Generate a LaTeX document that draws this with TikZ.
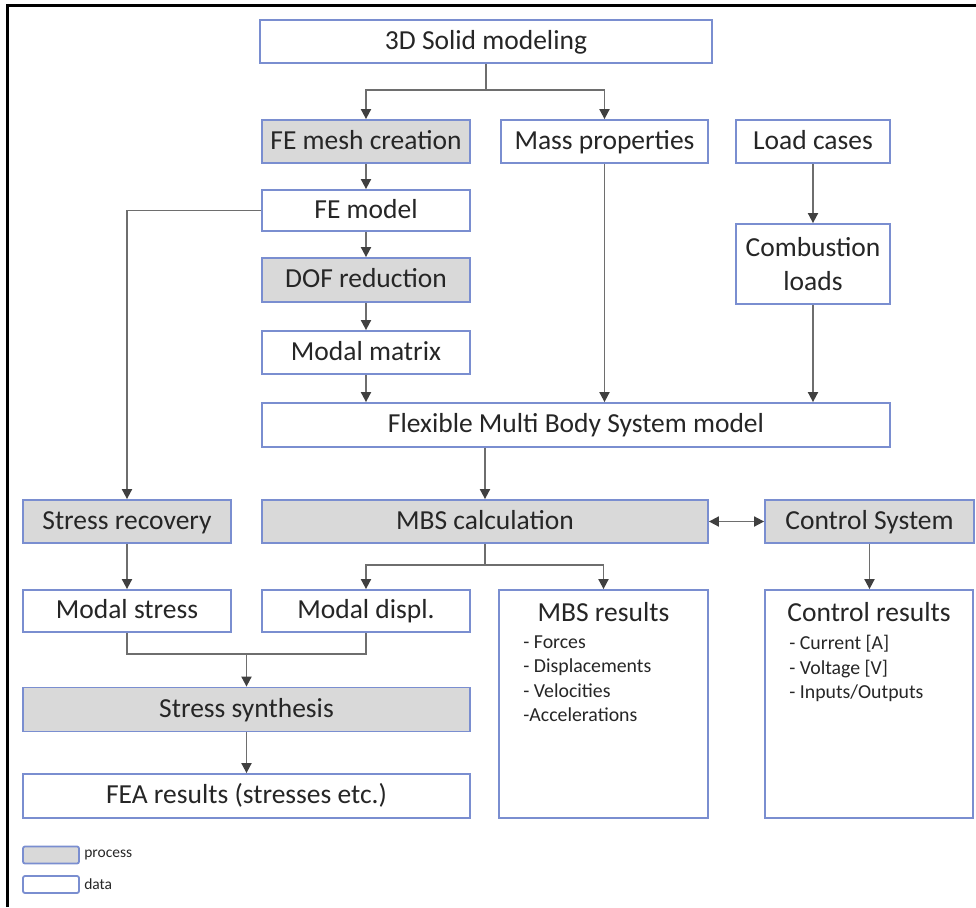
\documentclass[tikz,border=0pt]{standalone}
\usepackage{fontspec}
\setmainfont{Carlito}
\usetikzlibrary{arrows.meta,positioning}
\definecolor{boxblue}{RGB}{122,142,208}
\definecolor{procgray}{RGB}{217,217,217}
\definecolor{linegray}{RGB}{110,110,110}
\definecolor{tipgray}{RGB}{64,64,64}
\definecolor{txtgray}{RGB}{38,38,38}
\tikzset{
  sz/.style 2 args={minimum width=#1*0.5pt, minimum height=#2*0.5pt},
  data/.style={draw=boxblue, line width=0.9pt, fill=white, inner sep=0pt,
    text=txtgray, font=\fontsize{13.75}{17}\selectfont, align=center,
    text height=0.8em, text depth=0.05em},
  proc/.style={data, fill=procgray},
  link/.style={draw=linegray, line width=0.9pt},
  arr/.style={link, -{Triangle[length=5pt, width=5pt, color=tipgray]}},
  list/.style={inner sep=0pt, text=txtgray, align=left, font=\fontsize{9.9}{12.25}\selectfont},
  legend/.style={inner sep=0pt, text=txtgray, font=\fontsize{7.75}{9}\selectfont},
}
\begin{document}
\begin{tikzpicture}[x=0.5pt, y=-0.5pt]
  \useasboundingbox (0,0) rectangle (976,907);
  \draw[line width=1.5pt] (7.5,907) -- (7.5,5.5) -- (976,5.5);

  % modelling chain
  \node (solid)   [data, sz={452}{43}] at (486,41.5)  {3D Solid modeling};
  \node (mesh)    [proc, sz={208}{43}] at (366,141.5) {FE mesh creation};
  \node (mass)    [data, sz={207}{43}] at (604.5,141.5) {Mass properties};
  \node (loadc)   [data, sz={154}{43}] at (813,141.5) {Load cases};
  \node (femodel) [data, sz={208}{41}] at (366,210.5) {FE model};
  \node (dof)     [proc, sz={208}{44}] at (366,280)   {DOF reduction};
  \node (modal)   [data, sz={208}{43}] at (366,352.5) {Modal matrix};
  \node (comb)    [data, sz={154}{80}, text height={}, text depth={}] at (813,264) {Combustion\\loads};
  \node (fmbs)    [data, sz={628}{44}] at (576,425)   {Flexible Multi Body System model};

  % calculation
  \node (srec)    [proc, sz={208}{43}] at (127,521.5)   {Stress recovery};
  \node (mbscalc) [proc, sz={446}{43}] at (485,521.5)   {MBS calculation};
  \node (ctrl)    [proc, sz={209}{43}] at (869.5,521.5) {Control System};
  \node (mstress) [data, sz={208}{42}] at (127,611) {Modal stress};
  \node (mdispl)  [data, sz={208}{42}] at (366,611) {Modal displ.};
  \node (mbsres)  [data, sz={209}{228}] at (603.5,704) {};
  \node (ctrlres) [data, sz={208}{228}] at (869,704)   {};
  \node (ssyn)    [proc, sz={447}{44}] at (246.5,709.5) {Stress synthesis};
  \node (fea)     [data, sz={447}{44}] at (246.5,796)   {FEA results (stresses etc.)};

  % result lists
  \node (mbstitle)  [data, draw=none, fill=none] at (mbsres.north |- 0,614) {MBS results};
  \node (mbslist)   [list, anchor=north west] at (523,635)
    {- Forces\\- Displacements\\- Velocities\\-Accelerations};
  \node (ctrltitle) [data, draw=none, fill=none] at (ctrlres.north |- 0,614) {Control results};
  \node (ctrllist)  [list, anchor=north west] at (789,635)
    {- Current [A]\\- Voltage [V]\\- Inputs/Outputs};

  % connectors
  \coordinate (tsplit) at (solid.south |- 0,90);
  \draw[link] (solid.south) -- (tsplit);
  \draw[arr] (tsplit) -| (mesh.north);
  \draw[arr] (tsplit) -| (mass.north);
  \foreach \a/\b in {mesh/femodel, femodel/dof, dof/modal, loadc/comb,
                     modal/fmbs, mass/fmbs, comb/fmbs, srec/mstress, ctrl/ctrlres, ssyn/fea}
    { \draw[arr] (\a.south) -- (\a.south |- \b.north); }
  \draw[arr] (femodel.west) -| (srec.north);
  \draw[arr] (mbscalc.north |- fmbs.south) -- (mbscalc.north);
  \draw[link, {Triangle[length=5pt, width=5pt, color=tipgray]}-{Triangle[length=5pt, width=5pt, color=tipgray]}]
    (mbscalc.east) -- (ctrl.west);
  \coordinate (msplit) at (mbscalc.south |- 0,565);
  \draw[link] (mbscalc.south) -- (msplit);
  \draw[arr] (msplit) -| (mdispl.north);
  \draw[arr] (msplit) -| (mbsres.north);
  \coordinate (sjoin) at (ssyn.north |- 0,654);
  \draw[link] (mstress.south) |- (sjoin) -| (mdispl.south);
  \draw[arr] (sjoin) -- (ssyn.north);

  % legend
  \node (legproc) [proc, sz={56}{16}, rounded corners=1pt] at (51,855) {};
  \node (legproctxt) [legend, right=2pt of legproc] {process};
  \node (legdata) [data, sz={56}{16}, rounded corners=1pt] at (51,884.5) {};
  \node (legdatatxt) [legend, right=2pt of legdata] {data};
\end{tikzpicture}
\end{document}
